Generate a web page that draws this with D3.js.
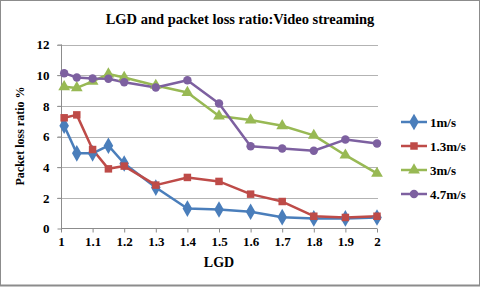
<!DOCTYPE html>
<html>
<head>
<meta charset="utf-8">
<script src="https://cdn.jsdelivr.net/npm/d3@7"></script>
<style>
body { margin: 0; background: #fff; }
text { font-family: "Liberation Serif", "Times New Roman", serif; font-weight: bold; fill: #000; }
</style>
</head>
<body>
<svg id="chart" width="480" height="287"></svg>
<script>
// データ
var lgd = [1.01, 1.05, 1.1, 1.15, 1.2, 1.3, 1.4, 1.5, 1.6, 1.7, 1.8, 1.9, 2];
var speed1 = [6.7, 4.9, 4.9, 5.4, 4.24, 2.67, 1.3, 1.24, 1.09, 0.74, 0.66, 0.66, 0.72];
var speed13 = [7.22, 7.41, 5.15, 3.89, 4.07, 2.83, 3.33, 3.07, 2.24, 1.76, 0.8, 0.72, 0.8];
var speed3 = [9.24, 9.17, 9.6, 10.07, 9.85, 9.33, 8.87, 7.33, 7.07, 6.7, 6.07, 4.78, 3.59];
var speed47 = [10.13, 9.85, 9.78, 9.76, 9.54, 9.2, 9.67, 8.15, 5.37, 5.22, 5.07, 5.8, 5.54];
var seriesNames = ["1m/s", "1.3m/s", "3m/s", "4.7m/s"];
var xTicks = [1, 1.1, 1.2, 1.3, 1.4, 1.5, 1.6, 1.7, 1.8, 1.9, 2];
var yTicks = [0, 2, 4, 6, 8, 10, 12];

var colors = ["#4a7ebb", "#be4b48", "#98b954", "#7d60a0"];
var symbols = [d3.symbolDiamond, d3.symbolSquare, d3.symbolTriangle, d3.symbolCircle];
var symSizes = [80, 56, 60, 56];
var allSeries = [speed1, speed13, speed3, speed47];

var svg = d3.select("#chart");

// 外枠
svg.append("rect").attr("x", 0.5).attr("y", 0.5).attr("width", 479).attr("height", 285)
    .attr("fill", "#fff").attr("stroke", "#8c8c8c").attr("stroke-width", 1);
svg.append("line").attr("x1", 0).attr("x2", 480).attr("y1", 285.5).attr("y2", 285.5)
    .attr("stroke", "#8c8c8c").attr("stroke-width", 2);

var x = d3.scaleLinear().domain([1, 2]).range([61, 377]);
var y = d3.scaleLinear().domain([0, 12]).range([228.5, 44.5]);

// グリッド
svg.append("g").selectAll("line").data(yTicks.slice(1)).enter().append("line")
    .attr("x1", 57).attr("x2", 378)
    .attr("y1", function (d) { return Math.round(y(d)) + 0.5; })
    .attr("y2", function (d) { return Math.round(y(d)) + 0.5; })
    .attr("stroke", "#b3b3b3").attr("stroke-width", 1);

// Y軸
var yAxis = svg.append("g").attr("transform", "translate(61.5,0)")
    .call(d3.axisLeft(y).tickValues(yTicks).tickSize(4).tickPadding(8).tickFormat(d3.format("d")));
yAxis.select(".domain").attr("stroke", "#8c8c8c").attr("d", "M0," + y(12) + "V" + y(0));
yAxis.selectAll(".tick line").attr("stroke", "#8c8c8c");
yAxis.selectAll(".tick text").attr("font-size", 13).style("font-family", "Liberation Serif").style("font-weight", "bold");

// X軸
var xAxis = svg.append("g").attr("transform", "translate(0," + y(0) + ")")
    .call(d3.axisBottom(x).tickValues(xTicks).tickSize(4).tickPadding(4).tickFormat(function (d) { return d3.format("")(+d.toFixed(1)); }));
xAxis.select(".domain").attr("stroke", "#8c8c8c").attr("d", "M" + x(1) + ",0H" + x(2));
xAxis.selectAll(".tick line").attr("stroke", "#8c8c8c");
xAxis.selectAll(".tick text").attr("font-size", 13).style("font-family", "Liberation Serif").style("font-weight", "bold");

// 線とマーカー
var line = d3.line()
    .x(function (d, i) { return x(lgd[i]); })
    .y(function (d) { return y(d); });

allSeries.forEach(function (vals, k) {
    svg.append("path").datum(vals)
        .attr("d", line).attr("fill", "none")
        .attr("stroke", colors[k]).attr("stroke-width", 2.5).attr("stroke-linejoin", "round");
});
allSeries.forEach(function (vals, k) {
    svg.append("g").selectAll("path").data(vals).enter().append("path")
        .attr("transform", function (d, i) { return "translate(" + x(lgd[i]) + "," + y(d) + ")"; })
        .attr("d", d3.symbol().type(symbols[k]).size(symSizes[k]))
        .attr("fill", colors[k]);
});

// 凡例
var legend = svg.append("g").selectAll("g").data(seriesNames).enter().append("g")
    .attr("transform", function (d, i) { return "translate(401," + (122 + i * 24) + ")"; });
legend.append("line").attr("x1", 0).attr("x2", 26)
    .attr("stroke", function (d, i) { return colors[i]; }).attr("stroke-width", 2.5);
legend.append("path")
    .attr("transform", "translate(13,0)")
    .attr("d", function (d, i) { return d3.symbol().type(symbols[i]).size(symSizes[i])(); })
    .attr("fill", function (d, i) { return colors[i]; });
legend.append("text").attr("x", 29).attr("y", 4.5).attr("font-size", 13).text(function (d) { return d; });

// タイトル
svg.append("text").attr("x", 240).attr("y", 24).attr("text-anchor", "middle")
    .attr("font-size", 14.5).text("LGD and packet loss ratio:Video streaming");
svg.append("text").attr("x", 219).attr("y", 267).attr("text-anchor", "middle")
    .attr("font-size", 14).text("LGD");
svg.append("text").attr("transform", "translate(24,136) rotate(-90)").attr("text-anchor", "middle")
    .attr("font-size", 12).text("Packet loss ratio %");
</script>
</body>
</html>
